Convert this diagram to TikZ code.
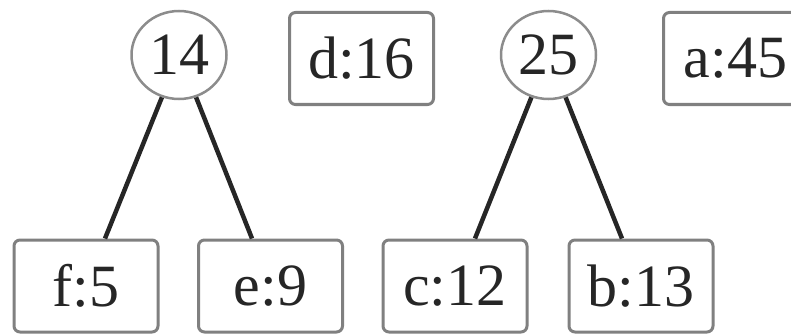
\documentclass[tikz,border=0pt]{standalone}
\usepackage{fontspec}
\setmainfont{Liberation Serif}
\usetikzlibrary{shapes.geometric}
\begin{document}
\begin{tikzpicture}[x=1pt,y=-1pt,
  every node/.style={font=\fontsize{60}{60}\selectfont, text=black!85, inner sep=0pt},
  leaf/.style={draw=black!50, line width=3pt, rounded corners=6pt, fill=white,
    minimum width=144pt, minimum height=92pt},
  inner/.style={ellipse, draw=black!45, line width=2.5pt, fill=white,
    minimum width=95pt, minimum height=88pt},
  branch/.style={draw=black!85, line width=4.5pt}]
  \useasboundingbox (0,0) rectangle (791,334);
  % forest after two merges
  \node[inner] (n14) at (179,55) {14};
  \node[leaf]  (d)   at (361.5,58.5) {d:16};
  \node[inner] (n25) at (548.5,55) {25};
  \node[leaf]  (a)   at (735.5,58.5) {a:45};
  \node[leaf]  (f)   at (86,286) {f:5};
  \node[leaf]  (e)   at (270.5,286) {e:9};
  \node[leaf]  (c)   at (455,286) {c:12};
  \node[leaf]  (b)   at (641,286) {b:13};
  % branches
  \draw[branch] (n14.248) -- ([xshift=19pt]f.north);
  \draw[branch] (n14.292) -- ([xshift=-18.5pt]e.north);
  \draw[branch] (n25.248) -- ([xshift=20pt]c.north);
  \draw[branch] (n25.292) -- ([xshift=-19pt]b.north);
\end{tikzpicture}
\end{document}
